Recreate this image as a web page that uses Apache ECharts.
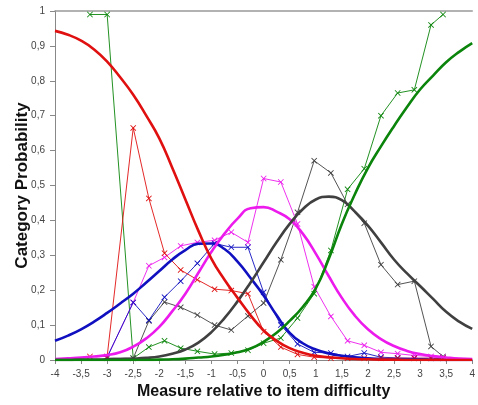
<!DOCTYPE html>
<html>
<head>
<meta charset="utf-8">
<script src="https://cdn.jsdelivr.net/npm/echarts@6/dist/echarts.min.js"></script>
<style>
  html, body { margin: 0; padding: 0; background: #fff; }
  #probChart { width: 478px; height: 405px; }
</style>
</head>
<body>
<div id="probChart"></div>
<script>
// model curves, read every 0.25 logit
const curveX = [-4, -3.75, -3.5, -3.25, -3, -2.75, -2.5, -2.25, -2, -1.75, -1.5, -1.25, -1, -0.75, -0.5, -0.25,
  0, 0.25, 0.5, 0.75, 1, 1.25, 1.5, 1.75, 2, 2.25, 2.5, 2.75, 3, 3.25, 3.5, 3.75, 4];
const redCurve = [0.943, 0.932, 0.915, 0.89, 0.855, 0.81, 0.76, 0.7, 0.635, 0.55, 0.46, 0.37, 0.29, 0.23, 0.178, 0.128,
  0.085, 0.055, 0.034, 0.021, 0.012, 0.008, 0.005, 0.003, 0.002, 0.001, 0.001, 0, 0, 0, 0, 0, 0];
const blueCurve = [0.055, 0.07, 0.088, 0.11, 0.135, 0.162, 0.19, 0.222, 0.255, 0.288, 0.315, 0.333, 0.334, 0.318, 0.282, 0.235,
  0.185, 0.128, 0.078, 0.048, 0.03, 0.019, 0.012, 0.008, 0.005, 0.003, 0.002, 0.001, 0.001, 0, 0, 0, 0];
const magentaCurve = [0.003, 0.005, 0.007, 0.01, 0.014, 0.022, 0.038, 0.062, 0.095, 0.14, 0.19, 0.25, 0.31, 0.362, 0.405, 0.435,
  0.438, 0.425, 0.403, 0.362, 0.305, 0.24, 0.178, 0.127, 0.088, 0.06, 0.04, 0.026, 0.017, 0.011, 0.007, 0.004, 0.003];
const grayCurve = [0, 0, 0.001, 0.001, 0.002, 0.003, 0.004, 0.006, 0.01, 0.018, 0.03, 0.05, 0.08, 0.12, 0.168, 0.222,
  0.28, 0.338, 0.39, 0.432, 0.46, 0.468, 0.458, 0.425, 0.385, 0.337, 0.288, 0.248, 0.212, 0.175, 0.138, 0.11, 0.089];
const greenCurve = [0, 0, 0, 0, 0, 0, 0, 0, 0.001, 0.002, 0.004, 0.007, 0.01, 0.015, 0.022, 0.033,
  0.052, 0.078, 0.112, 0.152, 0.205, 0.29, 0.39, 0.475, 0.55, 0.612, 0.67, 0.725, 0.775, 0.815, 0.853, 0.883, 0.908];

// observed proportions
const obsX = [-3.33, -3.0, -2.5, -2.2, -1.9, -1.59, -1.27, -0.94, -0.62, -0.3, 0.0, 0.33, 0.65, 0.97, 1.29, 1.61, 1.93, 2.25, 2.57, 2.89, 3.21, 3.44];
const redObs = [0.01, 0.01, 0.665, 0.463, 0.306, 0.258, 0.23, 0.203, 0.199, 0.19, 0.081, 0.037, 0.016, 0.008, 0.005, 0.005, 0.005, 0.005, 0.005, 0.005, 0.005, 0.005];
const blueObs = [null, 0.008, 0.165, 0.114, 0.18, 0.226, 0.277, 0.334, 0.323, 0.323, 0.194, 0.1, 0.046, 0.022, 0.02, 0.01, 0.02, 0.008, 0.006, 0.005, 0.005, 0.005];
const magentaObs = [null, 0.008, 0.165, 0.27, 0.294, 0.327, 0.337, 0.343, 0.366, 0.337, 0.52, 0.51, 0.39, 0.21, 0.125, 0.055, 0.042, 0.022, 0.018, 0.013, 0.01, 0.008];
const grayObs = [null, 0.005, 0.005, 0.112, 0.166, 0.151, 0.129, 0.1, 0.086, 0.126, 0.163, 0.287, 0.423, 0.571, 0.536, 0.446, 0.392, 0.273, 0.216, 0.226, 0.039, 0.01];
const greenObs = [0.99, 0.99, 0.005, 0.037, 0.055, 0.034, 0.025, 0.017, 0.02, 0.028, 0.048, 0.063, 0.12, 0.19, 0.314, 0.489, 0.548, 0.7, 0.765, 0.774, 0.96, 0.99];

const colors = {
  red: "#e01010",
  blue: "#1010c0",
  magenta: "#ec1aec",
  gray: "#404040",
  green: "#0a840a",
};

const crossSymbol = "path://M0,1L1,0L5,4L9,0L10,1L6,5L10,9L9,10L5,6L1,10L0,9L4,5Z";

function pairs(xs, ys) {
  return xs.map((x, i) => [x, ys[i]]);
}

function curve(name, ys, color) {
  return {
    name: name,
    type: "line",
    smooth: true,
    symbol: "none",
    silent: true,
    lineStyle: { color: color, width: 2.6 },
    data: pairs(curveX, ys),
    z: 3,
  };
}

function observed(name, ys, color) {
  return {
    name: name,
    type: "line",
    symbol: crossSymbol,
    symbolSize: 6,
    silent: true,
    itemStyle: { color: color },
    lineStyle: { color: color, width: 0.9 },
    data: pairs(obsX, ys).filter((p) => p[1] !== null),
    z: 2,
  };
}

const commaLabel = (v) => String(Math.round(v * 10) / 10).replace(".", ",");

let myChart = echarts.init(document.getElementById("probChart"));
let option;
option = {
  animation: false,
  grid: { left: 55, right: 2, top: 11, bottom: 44 },
  xAxis: [
    {
      type: "value",
      min: -4,
      max: 4,
      interval: 0.5,
      name: "Measure relative to item difficulty",
      nameLocation: "middle",
      nameGap: 24,
      nameMoveOverlap: false,
      nameTextStyle: { fontFamily: "Liberation Sans", fontWeight: "bold", fontSize: 16, color: "#111" },
      axisLine: { onZero: false, lineStyle: { color: "#888", width: 1 } },
      axisTick: { length: 4, lineStyle: { color: "#888" } },
      axisLabel: { fontFamily: "Liberation Sans", fontSize: 10, color: "#444", margin: 9, formatter: commaLabel },
      splitLine: { show: false },
    },
    {
      type: "value",
      position: "top",
      min: -4,
      max: 4,
      axisLine: { show: true, onZero: false, lineStyle: { color: "#999", width: 1.5 } },
      axisTick: { show: false },
      axisLabel: { show: false },
      splitLine: { show: false },
    },
  ],
  yAxis: {
    type: "value",
    min: 0,
    max: 1,
    interval: 0.1,
    name: "Category Probability",
    nameLocation: "middle",
    nameRotate: 90,
    nameGap: 24,
    nameMoveOverlap: false,
    nameTextStyle: { fontFamily: "Liberation Sans", fontWeight: "bold", fontSize: 17, color: "#111" },
    axisLine: { show: true, onZero: false, lineStyle: { color: "#888", width: 1 } },
    axisTick: { show: true, length: 5, lineStyle: { color: "#888" } },
    axisLabel: { fontFamily: "Liberation Sans", fontSize: 10, color: "#444", margin: 10, formatter: commaLabel },
    splitLine: { show: false },
  },
  series: [
    observed("green obs", greenObs, colors.green),
    observed("gray obs", grayObs, colors.gray),
    observed("magenta obs", magentaObs, colors.magenta),
    observed("blue obs", blueObs, colors.blue),
    observed("red obs", redObs, colors.red),
    curve("blue", blueCurve, colors.blue),
    curve("magenta", magentaCurve, colors.magenta),
    curve("gray", grayCurve, colors.gray),
    curve("green", greenCurve, colors.green),
    curve("red", redCurve, colors.red),
  ],
};

myChart.setOption(option);
</script>
</body>
</html>
